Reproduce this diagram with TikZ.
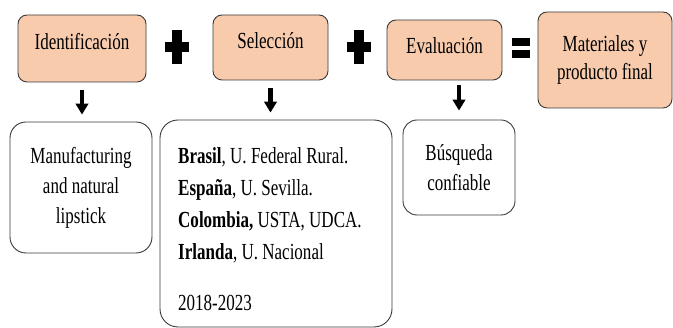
\documentclass[tikz,border=0pt]{standalone}
\usepackage{fontspec}
\setmainfont{Liberation Serif}[FakeStretch=0.74]
\usetikzlibrary{positioning,arrows.meta}

\definecolor{peach}{HTML}{F8CBAD}
\definecolor{edge}{HTML}{3A3A3A}

\tikzset{
  topbox/.style={draw=edge, fill=peach, line width=0.9pt, rounded corners=9pt,
    inner sep=0pt, align=center, font=\fontsize{23}{28}\selectfont},
  oneline/.style={text height=11pt, text depth=8pt},
  lowbox/.style={draw=edge, fill=white, line width=0.9pt, rounded corners=16pt,
    inner sep=0pt, align=center, font=\fontsize{23}{30}\selectfont},
  downarr/.style={line width=4.5pt, -{Triangle[width=12.5pt,length=11pt]}}
}

\begin{document}
\begin{tikzpicture}[x=1pt, y=-1pt]
      \useasboundingbox (0,0) rectangle (673,328);

      % Draw top boxes
      \node[topbox, oneline, minimum width=128pt, minimum height=67pt] (ident) at (82,48.5) {Identificación};
      \node[topbox, oneline, minimum width=115pt, minimum height=65pt] (selec) at (270.5,47.5) {Selección};
      \node[topbox, oneline, text depth=3pt, minimum width=115pt, minimum height=60pt] (evalu) at (444.5,50) {Evaluación};
      \node[topbox, minimum width=134pt, minimum height=96pt] (mater) at (605,60) {Materiales y\\producto final};

      % Plus signs between the boxes
      \foreach \cx in {177,359} {
        \fill (\cx-5,30) rectangle (\cx+5,64);
        \fill (\cx-12,42) rectangle (\cx+12,52);
      }

      % Equals sign
      \fill (512,38) rectangle (530,46);
      \fill (512,50) rectangle (530,58);

      % Draw lower boxes
      \node[lowbox, minimum width=142pt, minimum height=131pt] (manuf) at (81,187.5) {Manufacturing\\and natural\\lipstick};
      \node[lowbox, rounded corners=18pt, minimum width=232pt, minimum height=207pt] (selbox) at (276,223.5) {};
      \node[anchor=north west, inner sep=0pt, align=left, font=\fontsize{23}{32}\selectfont] (seltext) at (178,147)
        {\textbf{Brasil}, U. Federal Rural.\\
         \textbf{España}, U. Sevilla.\\
         \textbf{Colombia,} USTA, UDCA.\\
         \textbf{Irlanda}, U. Nacional\\[19pt]
         2018-2023};
      \node[lowbox, rounded corners=14pt, minimum width=112pt, minimum height=95pt] (busq) at (459,167.5) {Búsqueda\\confiable};

      % Arrows down
      \draw[downarr, shorten <=8pt, shorten >=7pt] (ident.south) -- (ident.south |- manuf.north);
      \draw[downarr, shorten <=8pt, shorten >=7pt] (selec.south) -- (selec.south |- selbox.north);
      \draw[downarr, shorten <=5pt, shorten >=9pt] (busq.north |- evalu.south) -- (busq.north);

  \end{tikzpicture}
\end{document}
